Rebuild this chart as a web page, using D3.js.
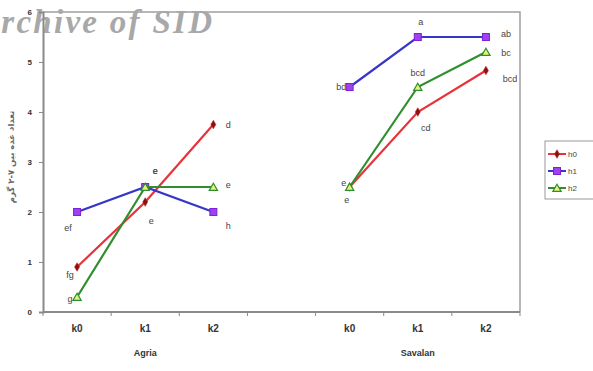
<!DOCTYPE html>
<html>
<head>
<meta charset="utf-8">
<script src="https://cdn.jsdelivr.net/npm/d3@7"></script>
<style>
  body { margin: 0; background: #fff; }
  svg { display: block; }
</style>
</head>
<body>
<svg id="chart" width="593" height="371"></svg>
<script>
// Slots along the x axis: two cultivars with three k-levels each, plus an empty gap slot
const slots = ["A-k0", "A-k1", "A-k2", "gap", "S-k0", "S-k1", "S-k2"];
const slotLabels = ["k0", "k1", "k2", "", "k0", "k1", "k2"];
const groups = ["Agria", "Savalan"];
const groupSlots = [["A-k0", "A-k2"], ["S-k0", "S-k2"]];
const yTicks = [0, 1, 2, 3, 4, 5, 6];

const seriesNames = ["h0", "h1", "h2"];
const slotsAgria = ["A-k0", "A-k1", "A-k2"];
const slotsSavalan = ["S-k0", "S-k1", "S-k2"];

const h0Agria = [0.9, 2.2, 3.75];
const h1Agria = [2.0, 2.5, 2.0];
const h2Agria = [0.3, 2.5, 2.5];
const h0Savalan = [2.5, 4.0, 4.83];
const h1Savalan = [4.5, 5.5, 5.5];
const h2Savalan = [2.5, 4.5, 5.2];

const h0AgriaLetters = ["fg", "e", "d"];
const h1AgriaLetters = ["ef", "e", "h"];
const h2AgriaLetters = ["g", "e", "e"];
const h0SavalanLetters = ["e", "cd", "bcd"];
const h1SavalanLetters = ["bde", "a", "ab"];
const h2SavalanLetters = ["e", "bcd", "bc"];

const yTitle = "تعداد غده بین ۷-۲ گرم";

// Letter placement relative to each point (dx, dy in px)
const letterOffsets = {
  h0: [[[-7, 8], [6, 19], [15, 0]], [[-3, 13], [8, 16], [24, 8]]],
  h1: [[[-9, 16], [10, -16], [15, 14]], [[-6, 0], [3, -15], [20, -3]]],
  h2: [[[-7, 2], [10, -16], [15, -2]], [[-6, -4], [0, -14], [20, 1]]]
};

const colors = { h0: "#e8333a", h1: "#3636c8", h2: "#2f8f2f" };

const svg = d3.select("#chart");
const margin = { left: 43, right: 73, top: 12, bottom: 59 };
const W = 593, H = 371;

const x = d3.scaleBand().domain(slots).range([margin.left, W - margin.right]).padding(0);
const y = d3.scaleLinear().domain([0, 6]).range([H - margin.bottom, margin.top]);

// Plot frame (top and right edges)
svg.append("path")
  .attr("d", `M${margin.left},${margin.top}H${W - margin.right}V${H - margin.bottom}`)
  .attr("fill", "none").attr("stroke", "#a0a0a0").attr("stroke-width", 1.5);

// Watermark: the leading "A" sits just past the left edge, the rest ends near x = 212
const wm = svg.append("text")
  .attr("y", 33)
  .attr("font-family", "Liberation Serif, Times New Roman, serif")
  .attr("font-size", 33).attr("font-weight", "bold").attr("font-style", "italic")
  .attr("fill", "#a8a8a8")
  .text("Archive of SID");
const wA = wm.node().getSubStringLength(0, 1);
wm.attr("x", -wA - 1).attr("textLength", 212 + wA + 1).attr("lengthAdjust", "spacing");

// Y axis
const yAxis = svg.append("g").attr("transform", `translate(${margin.left},0)`)
  .call(d3.axisLeft(y).tickValues(yTicks).tickFormat(d3.format("d")).tickSize(4).tickPadding(7));
yAxis.select(".domain").attr("stroke", "#8a8a8a").attr("stroke-width", 2);
yAxis.selectAll(".tick line").attr("stroke", "#8a8a8a");
yAxis.selectAll("text").attr("font-family", "Liberation Sans, Arial, sans-serif")
  .attr("font-size", 8).attr("font-weight", "bold").attr("fill", "#333");

// X axis with ticks on the slot boundaries
const bounds = slots.map(s => x(s)).concat([x(slots[slots.length - 1]) + x.bandwidth()]);
const xg = svg.append("g");
xg.append("line")
  .attr("x1", margin.left).attr("x2", W - margin.right)
  .attr("y1", y(0)).attr("y2", y(0))
  .attr("stroke", "#8a8a8a").attr("stroke-width", 2);
xg.selectAll(".xt").data(bounds).join("line")
  .attr("x1", d => d).attr("x2", d => d)
  .attr("y1", y(0)).attr("y2", y(0) + 4)
  .attr("stroke", "#8a8a8a");
xg.selectAll(".xl").data(slots).join("text")
  .attr("x", d => x(d) + x.bandwidth() / 2)
  .attr("y", y(0) + 20)
  .attr("text-anchor", "middle")
  .attr("font-family", "Liberation Sans, Arial, sans-serif")
  .attr("font-size", 10).attr("font-weight", "bold").attr("fill", "#333")
  .text((d, i) => slotLabels[i]);

// Cultivar names
svg.selectAll(".grp").data(groups).join("text")
  .attr("x", (d, i) => (x(groupSlots[i][0]) + x(groupSlots[i][1]) + x.bandwidth()) / 2)
  .attr("y", y(0) + 44)
  .attr("text-anchor", "middle")
  .attr("font-family", "Liberation Sans, Arial, sans-serif")
  .attr("font-size", 9).attr("font-weight", "bold").attr("fill", "#333")
  .text(d => d);

// Y title
svg.append("text")
  .attr("transform", `translate(14,${(margin.top + H - margin.bottom) / 2 - 5}) rotate(-90)`)
  .attr("text-anchor", "middle")
  .attr("font-family", "DejaVu Sans, sans-serif")
  .attr("font-size", 8.5).attr("font-weight", "bold").attr("fill", "#666")
  .text(yTitle);

const seriesData = {
  h0: [h0Agria, h0Savalan], h1: [h1Agria, h1Savalan], h2: [h2Agria, h2Savalan]
};
const seriesLetters = {
  h0: [h0AgriaLetters, h0SavalanLetters],
  h1: [h1AgriaLetters, h1SavalanLetters],
  h2: [h2AgriaLetters, h2SavalanLetters]
};
const groupSlotList = [slotsAgria, slotsSavalan];
const cx = s => x(s) + x.bandwidth() / 2;
const line = d3.line().x(d => cx(d.slot)).y(d => y(d.v));

function marker(g, name, px, py) {
  if (name === "h0") {
    g.append("path").attr("d", d3.symbol(d3.symbolDiamond, 22)())
      .attr("transform", `translate(${px},${py})`)
      .attr("fill", "#8b1010").attr("stroke", "#c02020").attr("stroke-width", 0.5);
  } else if (name === "h1") {
    g.append("rect").attr("x", px - 3.5).attr("y", py - 3.5).attr("width", 7).attr("height", 7)
      .attr("fill", "#a040f0").attr("stroke", "#7a22d8").attr("stroke-width", 1);
  } else {
    g.append("path").attr("d", d3.symbol(d3.symbolTriangle, 30)())
      .attr("transform", `translate(${px},${py + 1})`)
      .attr("fill", "#e6f27a").attr("stroke", "#2f8f2f").attr("stroke-width", 1.2);
  }
}

// Letter annotations
const letters = svg.append("g");
seriesNames.forEach(name => {
  [0, 1].forEach(gi => {
    const vals = seriesData[name][gi];
    const ls = seriesLetters[name][gi];
    vals.forEach((v, i) => {
      const s = groupSlotList[gi][i];
      const [dx, dy] = letterOffsets[name][gi][i];
      letters.append("text")
        .attr("x", cx(s) + dx).attr("y", y(v) + dy + 3)
        .attr("text-anchor", "middle")
        .attr("font-family", "Liberation Sans, Arial, sans-serif")
        .attr("font-size", 9).attr("fill", "#444")
        .text(ls[i]);
    });
  });
});

// Lines and markers
seriesNames.forEach(name => {
  const g = svg.append("g");
  [0, 1].forEach(gi => {
    const pts = seriesData[name][gi].map((v, i) => ({ slot: groupSlotList[gi][i], v }));
    g.append("path").datum(pts).attr("d", line)
      .attr("fill", "none").attr("stroke", colors[name]).attr("stroke-width", 2.2);
    pts.forEach(p => marker(g, name, cx(p.slot), y(p.v)));
  });
});

// Legend
const lg = svg.append("g").attr("transform", "translate(545,141)");
lg.append("rect").attr("x", 0).attr("y", 0).attr("width", 50).attr("height", 58)
  .attr("fill", "#fff").attr("stroke", "#999").attr("stroke-width", 1);
seriesNames.forEach((name, i) => {
  const yy = 13 + i * 17;
  lg.append("line").attr("x1", 3).attr("x2", 21).attr("y1", yy).attr("y2", yy)
    .attr("stroke", colors[name]).attr("stroke-width", 2);
  marker(lg, name, 12, yy);
  lg.append("text").attr("x", 23).attr("y", yy + 3)
    .attr("font-family", "Liberation Sans, Arial, sans-serif")
    .attr("font-size", 8).attr("fill", "#444").text(name);
});
</script>
</body>
</html>
